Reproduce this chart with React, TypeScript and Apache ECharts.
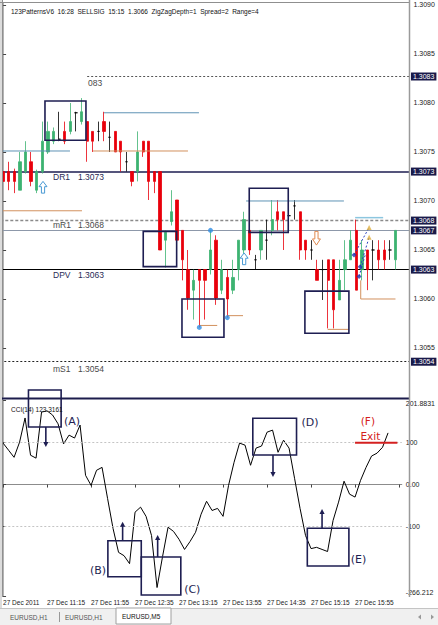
import React, { useEffect, useRef } from 'react';
import * as echarts from 'echarts';

// ---------- data ----------
const CATEGORIES = [
  '10:35','10:40','10:45','10:50','10:55',
  '11:00','11:05','11:10','11:15','11:20','11:25','11:30','11:35','11:40','11:45','11:50','11:55',
  '12:00','12:05','12:10','12:15','12:20','12:25','12:30','12:35','12:40','12:45','12:50','12:55',
  '13:00','13:05','13:10','13:15','13:20','13:25','13:30','13:35','13:40','13:45','13:50','13:55',
  '14:00','14:05','14:10','14:15','14:20','14:25','14:30','14:35','14:40','14:45','14:50','14:55',
  '15:00','15:05','15:10','15:15','15:20','15:25','15:30','15:35','15:40','15:45','15:50','15:55',
  '16:00','16:05','16:10','16:15','16:20','16:25','16:30','16:35'
];
const TIME_LABELS = ['27 Dec 2011','27 Dec 11:15','27 Dec 11:55','27 Dec 12:35','27 Dec 13:15','27 Dec 13:55','27 Dec 14:35','27 Dec 15:15','27 Dec 15:55'];

const OPEN = [1.30730,1.30730,1.30730,1.30711,1.30730,1.30740,1.30711,1.30730,1.30750,1.30761,
  1.30763,1.30771,1.30771,1.30790,1.30781,1.30781,1.30771,1.30771,1.30781,1.30765,
  1.30771,1.30761,1.30740,1.30730,1.30730,1.30761,1.30761,1.30730,1.30730,1.30660,
  1.30679,1.30701,1.30670,1.30630,1.30609,1.30630,1.30630,1.30630,1.30660,1.30609,
  1.30622,1.30609,1.30630,1.30650,1.30670,1.30640,1.30650,1.30660,1.30670,1.30689,
  1.30689,1.30685,1.30695,1.30689,1.30660,1.30650,1.30630,1.30630,1.30640,1.30640,
  1.30599,1.30630,1.30640,1.30670,1.30630,1.30650,1.30650,1.30650,1.30650,1.30650,1.30640];
const CLOSE = [1.30720,1.30720,1.30720,1.30740,1.30750,1.30720,1.30730,1.30761,1.30771,1.30771,
  1.30763,1.30761,1.30781,1.30790,1.30791,1.30761,1.30761,1.30771,1.30771,1.30765,
  1.30750,1.30750,1.30740,1.30720,1.30750,1.30750,1.30720,1.30720,1.30650,1.30668,
  1.30689,1.30660,1.30640,1.30601,1.30619,1.30619,1.30619,1.30650,1.30601,1.30630,
  1.30600,1.30622,1.30660,1.30681,1.30650,1.30640,1.30670,1.30660,1.30681,1.30681,
  1.30681,1.30685,1.30695,1.30650,1.30650,1.30650,1.30619,1.30630,1.30619,1.30589,
  1.30619,1.30640,1.30660,1.30609,1.30650,1.30630,1.30650,1.30640,1.30640,1.30650,1.30670];
const LOW = [1.30715,1.30711,1.30708,1.30711,1.30728,1.30715,1.30708,1.30728,1.30748,1.30758,
  1.30761,1.30758,1.30768,1.30771,1.30778,1.30740,1.30750,1.30761,1.30761,1.30750,
  1.30750,1.30730,1.30730,1.30715,1.30720,1.30745,1.30701,1.30708,1.30650,1.30632,
  1.30675,1.30658,1.30619,1.30589,1.30579,1.30571,1.30579,1.30625,1.30594,1.30605,
  1.30581,1.30605,1.30619,1.30645,1.30645,1.30630,1.30640,1.30640,1.30665,1.30670,
  1.30650,1.30680,1.30681,1.30640,1.30640,1.30640,1.30619,1.30599,1.30570,1.30570,
  1.30599,1.30609,1.30640,1.30609,1.30619,1.30609,1.30619,1.30630,1.30630,1.30640,1.30630];
const HIGH = [1.30735,1.30740,1.30733,1.30750,1.30761,1.30750,1.30732,1.30781,1.30781,1.30775,
  1.30791,1.30781,1.30800,1.30791,1.30805,1.30781,1.30771,1.30781,1.30791,1.30781,
  1.30771,1.30761,1.30750,1.30730,1.30771,1.30761,1.30761,1.30730,1.30730,1.30670,
  1.30711,1.30701,1.30670,1.30650,1.30630,1.30630,1.30630,1.30670,1.30665,1.30640,
  1.30630,1.30640,1.30660,1.30689,1.30689,1.30645,1.30670,1.30681,1.30701,1.30701,
  1.30689,1.30690,1.30701,1.30689,1.30660,1.30660,1.30640,1.30640,1.30640,1.30640,
  1.30640,1.30660,1.30670,1.30681,1.30660,1.30650,1.30660,1.30660,1.30660,1.30660,1.30670];

const CCI = [99,82,65,101,159,70,63,173,176,166,
  145,97,118,111,142,22,-2,34,41,-33,
  -105,-162,-170,-189,-66,-54,-76,-122,-246,-172,
  -102,-112,-131,-155,-136,-114,-71,-40,-62,-57,
  -76,-2,53,99,94,46,87,92,125,130,
  77,106,87,15,-57,-122,-153,-150,-155,-160,
  -86,-42,8,-23,-30,10,41,68,75,89,123.3161];

const PRICE_MIN = 1.305;
const PRICE_MAX = 1.30902;
const PRICE_TICKS = [1.3055, 1.306, 1.3065, 1.307, 1.3075, 1.308, 1.3085, 1.309];
const CCI_MIN = -266.212;
const CCI_MAX = 201.8831;
const CCI_TICKS = [-266.212, -100, 0, 100, 201.8831];
const CCI_TICK_LABELS = ['-266.212', '-100', '0.00', '100', '201.8831'];

const LEVELS = [1.30827, 1.3073, 1.3068, 1.3067, 1.3063, 1.30536];
const LEVEL_TEXTS = ['1.3083', '1.3073', '1.3068', '1.3067', '1.3063', '1.3054'];

// overlay annotations (x = bar index, y = price / CCI value)
const PRICE_BOXES = [
  [7.47, 14.78, 1.30802, 1.30762],
  [25.0, 30.96, 1.30669, 1.30633],
  [31.91, 39.4, 1.30600, 1.30561],
  [43.91, 50.87, 1.30713, 1.30668],
  [53.84, 61.69, 1.30608, 1.30565],
];
const STEEL_SEGMENTS = [
  [-0.5, 1.30751, 11.93, 1.30751],
  [17.99, 1.30790, 34.94, 1.30790],
  [43.35, 1.30700, 60.8, 1.30700],
];
const ORANGE_SEGMENTS = [
  [-0.5, 1.30690, 14.07, 1.30690],
  [16.03, 1.30751, 32.98, 1.30751],
  [35.0, 1.30573, 38.2, 1.30573],
  [40.0, 1.30583, 42.8, 1.30583],
  [57.9, 1.30569, 61.7, 1.30569],
  [63.8, 1.30619, 63.8, 1.30600],
  [63.8, 1.30600, 70.0, 1.30600],
];
const LIGHT_SEGMENTS = [[62.8, 1.30683, 67.8, 1.30683]];
const TOP_DOTTED_SEGMENTS = [[15.0, 1.30827, 72.5, 1.30827]];
const ZIGZAG_SEGMENTS = [
  [62.6, 1.30645, 65.3, 1.30673],
  [63.7, 1.30633, 65.3, 1.30663],
  [63.5, 1.30623, 64.6, 1.30645],
];
const ZIGZAG_POINTS = [[62.6, 1.30645], [63.7, 1.30633], [63.5, 1.30623]];
const ZIGZAG_TARGETS = [[65.3, 1.30673], [65.3, 1.30663]];
const SWING_DOTS = [[37, 1.30670], [35, 1.30571], [40, 1.30581]];
const BUY_ARROWS = [[7.12, 1.30720, 1.30708], [43.0, 1.30647, 1.30635]];
const SELL_ARROWS = [[55.9, 1.30655, 1.30669]];
const NAVY_TEXTS = ['DR1', '1.3073', 'DPV', '1.3063'];
const NAVY_TEXT_POS = [[8.9, 1.30724], [13.36, 1.30724], [8.9, 1.30624], [13.36, 1.30624]];
const GRAY_TEXTS = ['083', 'mR1', '1.3068', 'mS1', '1.3054'];
const GRAY_TEXT_POS = [[15.14, 1.30820], [8.9, 1.30675], [13.36, 1.30675], [8.9, 1.30529], [13.36, 1.30529]];

const CCI_BOXES = [
  [4.62, 10.56, 225.8, 137.4],
  [19.06, 25.13, -134.1, -220.1],
  [25.13, 32.32, -173.1, -263.8],
  [45.41, 53.36, 158.2, 70.5],
  [55.32, 62.88, -104.5, -194.6],
];
const CCI_ARROWS = [
  [7.78, 137.4, 89.6],
  [21.74, -134.1, -88.7],
  [28.11, -173.1, -120.5],
  [49.08, 70.5, 17.9],
  [58.0, -104.5, -58.4],
];
const CCI_LABELS = ['(A)', '(B)', '(C)', '(D)', '(E)'];
const CCI_LABEL_POS = [[12.55, 151.7], [17.28, -206.5], [34.4, -249.5], [55.81, 147.0], [64.63, -180.2]];
const EXIT_LABELS = ['(F)', 'Exit'];
const EXIT_LABEL_POS = [[66.33, 151.7], [66.78, 115.9]];
const EXIT_SEGMENTS = [[64.0, 100, 71.7, 100]];

const HEADER = '123PatternsV6  16:28  SELLSIG  15:15  1.3066  ZigZagDepth=1  Spread=2  Range=4';
const CCI_TITLE = 'CCI(14) 123.3161';

// ---------- styling helpers ----------
const NAVY = '#1e1e52';
const FONT = 'Liberation Sans, Arial, sans-serif';

const segRender = (stroke: string, lineWidth: number, lineDash?: number[]) => (params: any, api: any) => {
  const a = api.coord([api.value(0), api.value(1)]);
  const b = api.coord([api.value(2), api.value(3)]);
  return {
    type: 'line',
    shape: { x1: a[0], y1: a[1], x2: b[0], y2: b[1] },
    style: { stroke, lineWidth, lineDash: lineDash || null, fill: null },
  };
};

const boxRender = (params: any, api: any) => {
  const a = api.coord([api.value(0), api.value(2)]);
  const b = api.coord([api.value(1), api.value(3)]);
  return {
    type: 'rect',
    shape: { x: a[0], y: a[1], width: b[0] - a[0], height: b[1] - a[1] },
    style: { fill: 'none', stroke: NAVY, lineWidth: 1.6 },
  };
};

const blockArrowRender = (stroke: string) => (params: any, api: any) => {
  const tip = api.coord([api.value(0), api.value(1)]);
  const base = api.coord([api.value(0), api.value(2)]);
  const dir = base[1] > tip[1] ? 1 : -1;
  const len = Math.abs(base[1] - tip[1]);
  const hy = tip[1] + dir * len * 0.45;
  const cx = tip[0];
  const hw = 4, sw = 1.6;
  return {
    type: 'polygon',
    shape: { points: [[cx, tip[1]], [cx + hw, hy], [cx + sw, hy], [cx + sw, base[1]], [cx - sw, base[1]], [cx - sw, hy], [cx - hw, hy]] },
    style: { fill: '#ffffff', stroke, lineWidth: 1 },
  };
};

const lineArrowRender = (params: any, api: any) => {
  const a = api.coord([api.value(0), api.value(1)]);
  const b = api.coord([api.value(0), api.value(2)]);
  const dir = b[1] > a[1] ? 1 : -1;
  return {
    type: 'group',
    children: [
      { type: 'line', shape: { x1: a[0], y1: a[1], x2: b[0], y2: b[1] - dir * 4 }, style: { stroke: NAVY, lineWidth: 1.6 } },
      { type: 'polygon', shape: { points: [[b[0], b[1]], [b[0] - 2.6, b[1] - dir * 5], [b[0] + 2.6, b[1] - dir * 5]] }, style: { fill: NAVY } },
    ],
  };
};

const textRender = (texts: string[], fill: string, fontSize: number, align: string, fontFamily: string) => (params: any, api: any) => {
  const p = api.coord([api.value(0), api.value(1)]);
  return {
    type: 'text',
    x: p[0],
    y: p[1],
    style: { text: texts[params.dataIndex], fill, fontSize, fontFamily, align, verticalAlign: 'middle' },
  };
};

const custom = (name: string, xAxisIndex: number, yAxisIndex: number, data: number[][], renderItem: any, encode: any) => ({
  type: 'custom', name, xAxisIndex, yAxisIndex, data, renderItem, encode, clip: false, silent: true, z: 5,
});

function buildOption() {
  const candleData = OPEN.map((o, i) => {
    const v = [o, CLOSE[i], LOW[i], HIGH[i]];
    if (o === CLOSE[i]) {
      return { value: v, itemStyle: { color: '#000', color0: '#000', borderColor: '#000', borderColor0: '#000' } };
    }
    return v;
  });

  const levelStyles: any[] = [
    { color: 'rgba(0,0,0,0)', width: 1, type: 'solid' },
    { color: '#1c1c50', width: 1.5, type: 'solid' },
    { color: '#8a8a8a', width: 1.4, type: [3, 2] },
    { color: '#8d98aa', width: 1, type: 'solid' },
    { color: '#000000', width: 1.2, type: 'solid' },
    { color: '#222222', width: 1, type: [2, 2] },
  ];

  const labelShow = (i: number) => i % 8 === 0;

  return {
    animation: false,
    backgroundColor: '#ffffff',
    textStyle: { fontFamily: FONT },
    title: [
      { text: HEADER, left: 6, top: 3, textStyle: { fontSize: 6.5, fontWeight: 'normal', color: '#111', fontFamily: FONT } },
      { text: CCI_TITLE, left: 6, top: 401, textStyle: { fontSize: 6.5, fontWeight: 'normal', color: '#111', fontFamily: FONT } },
    ],
    grid: [
      { left: 0.3, right: 28.5, top: 3, height: 394 },
      { left: 0.3, right: 28.5, top: 400, height: 196 },
    ],
    xAxis: [
      { type: 'category', gridIndex: 0, data: CATEGORIES, boundaryGap: true, axisLine: { show: false }, axisTick: { show: false }, axisLabel: { show: false }, splitLine: { show: false } },
      {
        type: 'category', gridIndex: 1, data: CATEGORIES, boundaryGap: true,
        axisLine: { show: true, lineStyle: { color: '#8c8c8c', width: 1 } },
        axisTick: { show: true, alignWithLabel: true, interval: (i: number) => labelShow(i), length: 3, lineStyle: { color: '#444' } },
        axisLabel: { interval: (i: number) => labelShow(i), formatter: (v: string, i: number) => TIME_LABELS[i / 8] || '', align: 'left', margin: 3, fontSize: 6.5, color: '#222', fontFamily: FONT },
        splitLine: { show: false },
      },
      { type: 'value', gridIndex: 0, min: -0.5, max: 72.5, position: 'top', show: false },
      { type: 'value', gridIndex: 1, min: -0.5, max: 72.5, position: 'top', show: false },
    ],
    yAxis: [
      {
        type: 'value', gridIndex: 0, position: 'right', min: PRICE_MIN, max: PRICE_MAX,
        splitLine: { show: false },
        axisLine: { show: true, lineStyle: { color: '#9a9a9a', width: 1.5 } },
        axisTick: { show: true, length: 3, customValues: PRICE_TICKS, lineStyle: { color: '#444' } },
        axisLabel: { customValues: PRICE_TICKS, formatter: (v: number) => v.toFixed(4), fontSize: 7, margin: 4, color: '#222', fontFamily: FONT },
      },
      {
        type: 'value', gridIndex: 1, position: 'right', min: CCI_MIN, max: CCI_MAX,
        splitLine: { show: false },
        axisLine: { show: true, lineStyle: { color: '#9a9a9a', width: 1.5 } },
        axisTick: { show: true, length: 3, customValues: CCI_TICKS, lineStyle: { color: '#444' } },
        axisLabel: {
          customValues: CCI_TICKS,
          formatter: (v: number) => {
            const i = CCI_TICKS.findIndex((t) => Math.abs(t - v) < 1e-6);
            return i >= 0 ? CCI_TICK_LABELS[i] : '';
          },
          verticalAlignMaxLabel: 'top', verticalAlignMinLabel: 'bottom',
          fontSize: 7, margin: 4, color: '#222', fontFamily: FONT,
        },
      },
    ],
    series: [
      {
        type: 'candlestick', name: 'EURUSD,M5', xAxisIndex: 0, yAxisIndex: 0,
        data: candleData, barWidth: 2.8,
        itemStyle: { color: '#3cb371', color0: '#e8000b', borderColor: '#3cb371', borderColor0: '#e8000b', borderWidth: 0.8 },
        z: 3,
      },
      {
        type: 'line', name: 'CCI(14)', xAxisIndex: 1, yAxisIndex: 1, data: CCI,
        showSymbol: false, symbol: 'none', lineStyle: { color: '#000', width: 1 },
        markLine: {
          silent: true, symbol: ['none', 'none'], animation: false, label: { show: false },
          lineStyle: { color: '#c4c4c4', type: [2, 2], width: 1 },
          data: [{ yAxis: 100 }, { yAxis: -100 }],
        },
      },
      custom('topDotted', 2, 0, TOP_DOTTED_SEGMENTS, segRender('#555', 1, [2, 2]), { x: [0, 2], y: [1, 3] }),
      custom('steel', 2, 0, STEEL_SEGMENTS, segRender('#5f93b5', 1), { x: [0, 2], y: [1, 3] }),
      custom('orange', 2, 0, ORANGE_SEGMENTS, segRender('#d2915e', 1), { x: [0, 2], y: [1, 3] }),
      custom('light', 2, 0, LIGHT_SEGMENTS, segRender('#8cc6df', 1.5), { x: [0, 2], y: [1, 3] }),
      custom('zigzag', 2, 0, ZIGZAG_SEGMENTS, segRender('#2a40c0', 1, [2, 2]), { x: [0, 2], y: [1, 3] }),
      custom('priceBoxes', 2, 0, PRICE_BOXES, boxRender, { x: [0, 1], y: [2, 3] }),
      custom('buyArrows', 2, 0, BUY_ARROWS, blockArrowRender('#4a9ad4'), { x: 0, y: [1, 2] }),
      custom('sellArrows', 2, 0, SELL_ARROWS, blockArrowRender('#e08a50'), { x: 0, y: [1, 2] }),
      custom('navyTexts', 2, 0, NAVY_TEXT_POS, textRender(NAVY_TEXTS, '#2a2a55', 8.5, 'left', FONT), { x: 0, y: 1 }),
      custom('grayTexts', 2, 0, GRAY_TEXT_POS, textRender(GRAY_TEXTS, '#4a4a4a', 8.5, 'left', FONT), { x: 0, y: 1 }),
      {
        type: 'scatter', name: 'swings', xAxisIndex: 2, yAxisIndex: 0, data: SWING_DOTS,
        symbol: 'circle', symbolSize: 5, itemStyle: { color: '#2f8de4' }, silent: true, z: 6,
        markLine: {
          silent: true, symbol: ['none', 'none'], animation: false, precision: 6, z: 2,
          data: LEVELS.map((v, i) => ({
            yAxis: v,
            lineStyle: levelStyles[i],
            label: {
              show: true, position: 'end', formatter: LEVEL_TEXTS[i], color: '#ffffff', backgroundColor: '#1a1a4a',
              fontSize: 7, padding: [1, 2, 0, 2], distance: 1.5, fontFamily: FONT, opacity: 1,
            },
          })),
        },
      },
      {
        type: 'scatter', name: 'zigzagPoints', xAxisIndex: 2, yAxisIndex: 0, data: ZIGZAG_POINTS,
        symbol: 'diamond', symbolSize: 5, itemStyle: { color: '#1f35b0' }, silent: true, z: 6,
      },
      {
        type: 'scatter', name: 'zigzagTargets', xAxisIndex: 2, yAxisIndex: 0, data: ZIGZAG_TARGETS,
        symbol: 'triangle', symbolSize: 5, itemStyle: { color: '#e0b040' }, silent: true, z: 6,
      },
      custom('cciBoxes', 3, 1, CCI_BOXES, boxRender, { x: [0, 1], y: [2, 3] }),
      custom('cciArrows', 3, 1, CCI_ARROWS, lineArrowRender, { x: 0, y: [1, 2] }),
      custom('cciLabels', 3, 1, CCI_LABEL_POS, textRender(CCI_LABELS, NAVY, 11, 'center', 'DejaVu Sans, sans-serif'), { x: 0, y: 1 }),
      custom('exitLine', 3, 1, EXIT_SEGMENTS, segRender('#d42020', 2), { x: [0, 2], y: [1, 3] }),
      custom('exitLabels', 3, 1, EXIT_LABEL_POS, textRender(EXIT_LABELS, '#d42020', 10.5, 'center', 'DejaVu Sans, sans-serif'), { x: 0, y: 1 }),
    ],
    graphic: [
      { type: 'rect', shape: { x: 0, y: 0, width: 2, height: 608 }, style: { fill: '#dcdcdc' }, z: 100 },
      { type: 'line', shape: { x1: 2.5, y1: 0, x2: 2.5, y2: 597 }, style: { stroke: '#8f8f8f', lineWidth: 1 }, z: 100 },
      { type: 'line', shape: { x1: 0, y1: 2.5, x2: 410, y2: 2.5 }, style: { stroke: '#8f8f8f', lineWidth: 1 }, z: 100 },
      { type: 'line', shape: { x1: 2, y1: 398.5, x2: 410, y2: 398.5 }, style: { stroke: '#1c1c4c', lineWidth: 2 }, z: 100 },
      { type: 'line', shape: { x1: 409.5, y1: 0, x2: 409.5, y2: 597 }, style: { stroke: '#9a9a9a', lineWidth: 1.5 }, z: 100 },
      { type: 'rect', shape: { x: 0, y: 608, width: 438, height: 17 }, style: { fill: '#f0f0f0' }, z: 100 },
      { type: 'line', shape: { x1: 0, y1: 608.5, x2: 438, y2: 608.5 }, style: { stroke: '#c4c4c4', lineWidth: 1 }, z: 101 },
      { type: 'rect', shape: { x: 116, y: 608, width: 55, height: 16 }, style: { fill: '#ffffff', stroke: '#a0a0a0', lineWidth: 1 }, z: 101 },
      { type: 'text', x: 10, y: 617, style: { text: 'EURUSD,H1', fill: '#555', fontSize: 6.5, fontFamily: FONT, verticalAlign: 'middle' }, z: 102 },
      { type: 'line', shape: { x1: 59.5, y1: 612, x2: 59.5, y2: 622 }, style: { stroke: '#999', lineWidth: 1 }, z: 102 },
      { type: 'text', x: 65, y: 617, style: { text: 'EURUSD,H1', fill: '#555', fontSize: 6.5, fontFamily: FONT, verticalAlign: 'middle' }, z: 102 },
      { type: 'text', x: 122, y: 616.5, style: { text: 'EURUSD,M5', fill: '#111', fontSize: 6.5, fontFamily: FONT, verticalAlign: 'middle' }, z: 102 },
      { type: 'polygon', shape: { points: [[418, 617], [421, 614.5], [421, 619.5]] }, style: { fill: '#999' }, z: 102 },
      { type: 'polygon', shape: { points: [[434, 617], [431, 614.5], [431, 619.5]] }, style: { fill: '#999' }, z: 102 },
    ],
  };
}

export default function App() {
  const ref = useRef<HTMLDivElement>(null);
  useEffect(() => {
    if (!ref.current) return;
    const chart = echarts.init(ref.current, null, { renderer: 'svg' });
    chart.setOption(buildOption() as any);
    return () => chart.dispose();
  }, []);
  return (
    <div
      ref={ref}
      style={{ position: 'fixed', left: 0, top: 0, width: 438, height: 625, background: '#ffffff' }}
    />
  );
}
